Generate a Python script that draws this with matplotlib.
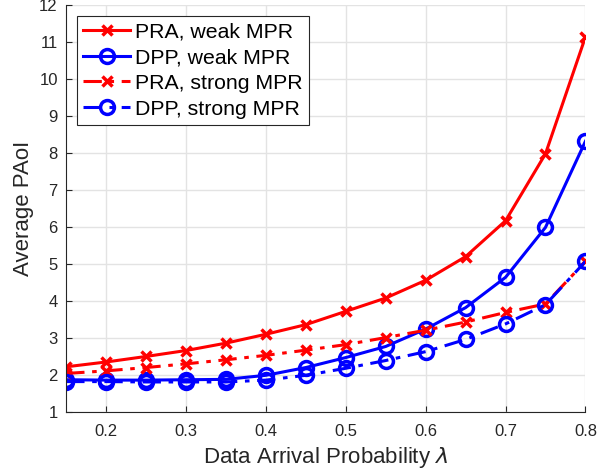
import matplotlib
matplotlib.use("Agg")
import matplotlib.pyplot as plt

# values
lam = [0.15, 0.2, 0.25, 0.3, 0.35, 0.4, 0.45, 0.5, 0.55, 0.6, 0.65, 0.7, 0.75, 0.8]
pra_weak = [2.22, 2.35, 2.50, 2.66, 2.86, 3.10, 3.36, 3.72, 4.08, 4.56, 5.20, 6.17, 7.98, 11.14]
dpp_weak = [1.87, 1.86, 1.86, 1.87, 1.88, 1.99, 2.20, 2.47, 2.77, 3.24, 3.82, 4.64, 5.99, 8.32]
pra_strong = [2.04, 2.11, 2.20, 2.30, 2.41, 2.53, 2.67, 2.82, 3.01, 3.21, 3.43, 3.69, 3.92, 5.07]
dpp_strong = [1.82, 1.82, 1.81, 1.81, 1.81, 1.86, 1.99, 2.18, 2.39, 2.63, 2.96, 3.38, 3.90, 5.07]

xticks = [0.2, 0.3, 0.4, 0.5, 0.6, 0.7, 0.8]
yticks = list(range(1, 13))

plt.rcParams["font.family"] = ["Liberation Sans", "DejaVu Sans"]
plt.rcParams["mathtext.fontset"] = "dejavusans"

fig = plt.figure(figsize=(6.13, 4.74), dpi=100)
ax = fig.add_axes([0.108, 0.131, 0.847, 0.858])

lw = 2.2
dashdot = (0, (6, 2.5, 1.5, 2.5))
ax.plot(lam, pra_weak, "-", color="red", lw=lw, marker="x", ms=7, mew=2.5, label="PRA, weak MPR")
ax.plot(lam, dpp_weak, "-", color="blue", lw=lw, marker="o", ms=10, mew=2.5, mfc="none", label="DPP, weak MPR")
ax.plot(lam, pra_strong, ls=dashdot, color="red", lw=lw, marker="x", ms=7, mew=2.5, label="PRA, strong MPR")
ax.plot(lam, dpp_strong, ls=dashdot, color="blue", lw=lw, marker="o", ms=10, mew=2.5, mfc="none", label="DPP, strong MPR")

ax.set_xlim(0.15, 0.8)
ax.set_ylim(1, 12)
ax.set_xticks(xticks)
ax.set_xticklabels([f"{t:g}" for t in xticks])
ax.set_yticks(yticks)
ax.grid(True, color="#e3e3e3", lw=1)
ax.set_axisbelow(True)
ax.tick_params(direction="in", length=4, colors="#262626", labelsize=12)
ax.tick_params(axis="x", pad=9)
ax.tick_params(axis="y", pad=6)
for side in ["top", "right"]:
    ax.spines[side].set_visible(False)
for side in ["left", "bottom"]:
    ax.spines[side].set_color("#262626")

ax.set_xlabel(r"Data Arrival Probability $\lambda$", fontsize=16, color="#262626", labelpad=4)
ax.set_ylabel("Average PAoI", fontsize=16, color="#262626", labelpad=4)

leg = ax.legend(loc="upper left", fontsize=15.3, fancybox=False, framealpha=1,
                edgecolor="#262626", borderaxespad=0.5, handlelength=2.2,
                handletextpad=0.25, borderpad=0.3, labelspacing=0.32)
leg.get_frame().set_linewidth(0.8)

fig.savefig("out.png", dpi=100)
